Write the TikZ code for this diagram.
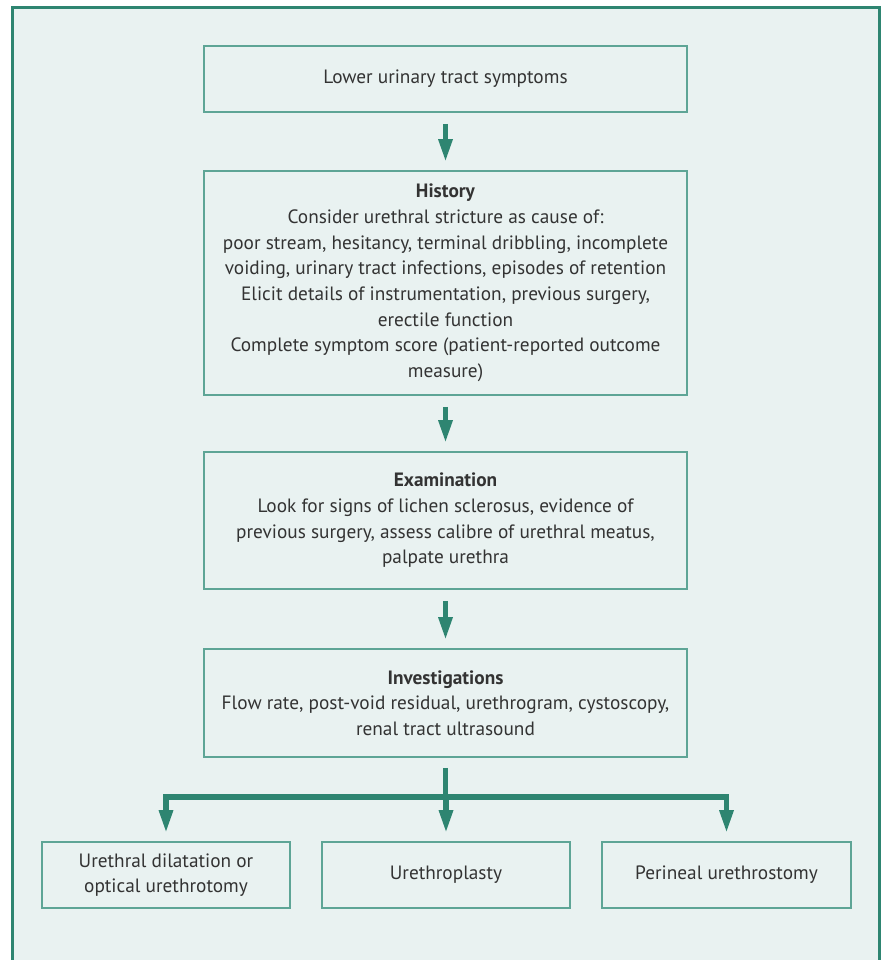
\documentclass[tikz,border=0pt]{standalone}
\usepackage{fontspec}
\setmainfont{PT Sans}
\usepackage{xcolor}
\usepackage{tikz}
\usetikzlibrary{arrows.meta,arrows}
\usetikzlibrary{positioning,calc}

\definecolor{framegreen}{HTML}{2E8571}
\definecolor{boxgreen}{HTML}{5EA596}
\definecolor{panelbg}{HTML}{E9F2F1}
\definecolor{textgrey}{HTML}{333333}

\begin{document}
\begin{tikzpicture}[
            x = 1pt, y = -1pt, % pixel-like units, y going down
            > = {Triangle[width=13pt,length=23pt]}, % arrow head style
            flow/.style = {draw = framegreen, line width = 5.5pt, line join = miter},
            semithick % line style
        ]

        \tikzstyle{stage}=[
            draw = boxgreen,
            line width = 1.6pt,
            fill = panelbg,
            text = textgrey,
            align = center,
            font = \fontsize{19.3}{25.7}\selectfont,
            minimum width = 483pt,
            inner sep = 0pt
        ]
        \tikzstyle{outcome}=[stage, minimum width = 248pt, minimum height = 66pt]

        \clip (0,0) rectangle (882,960);
        % Panel
        \fill[panelbg] (12.5,7.5) rectangle (879.5,975);
        \draw[framegreen, line width = 3pt] (12.5,975) -- (12.5,7.5) -- (879.5,7.5) -- (879.5,975);

        \node[stage, minimum height = 66pt] (lut) [at={(445.5,79)}] {Lower urinary tract symptoms};
        \node[stage, minimum height = 224pt] (hist) [at={(445.5,283)}] {\textbf{History}\\
            Consider urethral stricture as cause of:\\
            poor stream, hesitancy, terminal dribbling, incomplete\\
            voiding, urinary tract infections, episodes of retention\\
            Elicit details of instrumentation, previous surgery,\\
            erectile function\\
            Complete symptom score (patient-reported outcome\\
            measure)};
        \node[stage, minimum height = 137pt] (exam) [at={(445.5,520.5)}] {\textbf{Examination}\\
            Look for signs of lichen sclerosus, evidence of\\
            previous surgery, assess calibre of urethral meatus,\\
            palpate urethra};
        \node[stage, minimum height = 108pt] (inv) [at={(445.5,703)}] {\textbf{Investigations}\\
            Flow rate, post-void residual, urethrogram, cystoscopy,\\
            renal tract ultrasound};
        % Treatment options
        \node[outcome] (opt) [at={(166,875)}] {Urethral dilatation or\\optical urethrotomy};
        \node[outcome] (plasty) [at={(446,875)}] {Urethroplasty};
        \node[outcome, minimum width = 249pt] (peri) [at={(726.5,875)}] {Perineal urethrostomy};
        \coordinate (fork) at (445.5,797);

        \path[flow, ->, shorten < = 11pt, shorten > = 8pt] (lut) edge (hist);
        \path[flow, ->, shorten < = 11pt, shorten > = 8pt] (hist) edge (exam);
        \path[flow, ->, shorten < = 11pt, shorten > = 8pt] (exam) edge (inv);
        \path[flow, shorten < = 10pt] (inv) edge (fork);
        \draw[flow, ->, shorten > = 8pt] (fork) -| (opt);
        \draw[flow, ->, shorten > = 8pt] (fork) -- (fork -| plasty) -- (plasty);
        \draw[flow, ->, shorten > = 8pt] (fork) -| (peri);

\end{tikzpicture}
\end{document}
